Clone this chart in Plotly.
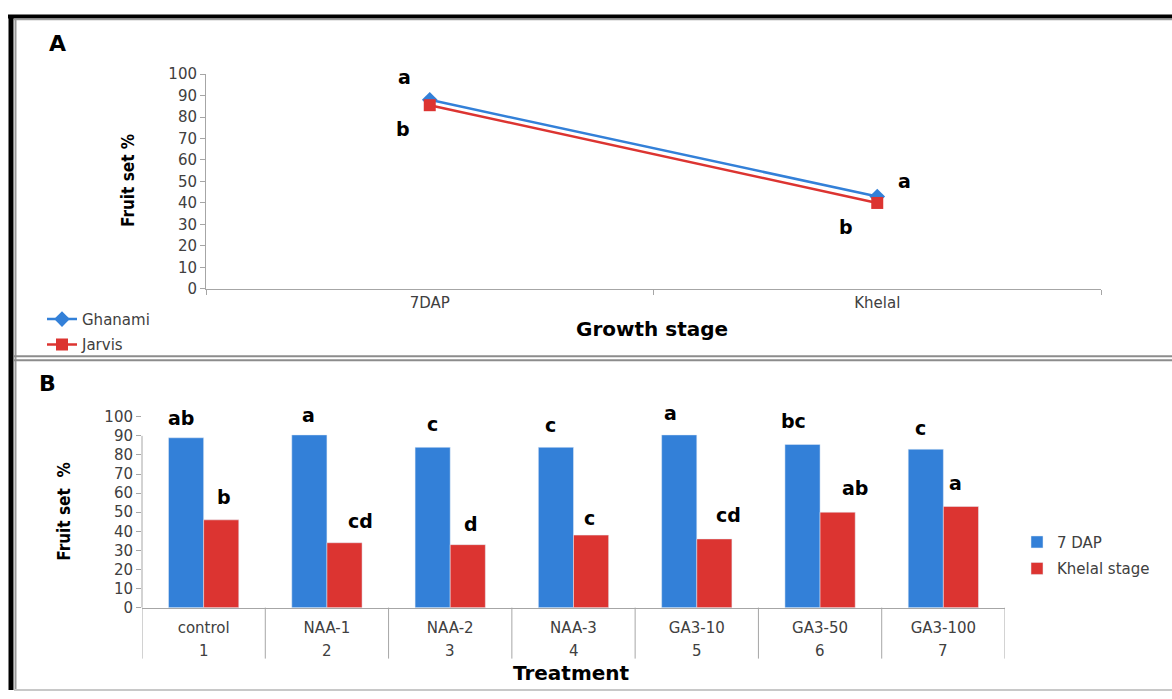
import plotly.graph_objects as go

# ---------------- data ----------------
stages = ["7DAP", "Khelal"]
ghanami = [88, 43]
jarvis = [85.5, 40]
ghanami_err = [1.5, 1.5]
jarvis_err = [2, 2]
ghanami_letters = ["a", "a"]
jarvis_letters = ["b", "b"]

treatments = ["control", "NAA-1", "NAA-2", "NAA-3", "GA3-10", "GA3-50", "GA3-100"]
treat_no = ["1", "2", "3", "4", "5", "6", "7"]
dap7 = [89, 90.5, 84, 84, 90.5, 85.5, 83]
khelal = [46, 34, 33, 38, 36, 50, 53]
dap7_letters = ["ab", "a", "c", "c", "a", "bc", "c"]
khelal_letters = ["b", "cd", "d", "c", "cd", "ab", "a"]

# ---------------- style ----------------
W, H = 1172, 699
BLUE = "#3380D8"
RED = "#DC3431"
AXIS = "#A6A6A6"
TICKF = dict(family="DejaVu Sans", size=15, color="#404040")
LETTERF = dict(family="DejaVu Sans", size=19, color="black")
TITLEF = dict(family="DejaVu Sans", size=20, color="black")
YTITLEF = dict(family="DejaVu Sans Condensed", size=17, color="black")

# the page is shown with a small vertical offset/scale; compensate it
V_OFF, V_SCALE = 7.9, 0.975


def px(x):
    return x / W


def ypix(y):
    return min(max((y - V_OFF) / V_SCALE, 0), H)


def py(y):
    return 1 - ypix(y) / H


fig = go.Figure()

# Panel A lines
fig.add_trace(go.Scatter(
    x=stages, y=ghanami, name="Ghanami", mode="lines+markers",
    line=dict(color=BLUE, width=2.5),
    marker=dict(symbol="diamond", size=12, color=BLUE),
    error_y=dict(type="data", array=ghanami_err, color="black", thickness=1, width=0),
    xaxis="x", yaxis="y", legend="legend", legendgroup="g"))
fig.add_trace(go.Scatter(
    x=stages, y=jarvis, name="Jarvis", mode="lines+markers",
    line=dict(color=RED, width=2.5),
    marker=dict(symbol="square", size=12, color=RED),
    error_y=dict(type="data", array=jarvis_err, color="black", thickness=1, width=0),
    xaxis="x", yaxis="y", legend="legend", legendgroup="j"))

# Panel B bars
fig.add_trace(go.Bar(
    x=treatments, y=dap7, name="7 DAP", marker_color=BLUE,
    xaxis="x2", yaxis="y2", legend="legend2", legendgroup="d"))
fig.add_trace(go.Bar(
    x=treatments, y=khelal, name="Khelal stage", marker_color=RED,
    xaxis="x2", yaxis="y2", legend="legend2", legendgroup="k"))

annotations = []
# Panel A letters (offsets in pixels)
offA_g = [(-25, 23), (27, 16)]
offA_j = [(-27, -24), (-31, -24)]
for i, s in enumerate(stages):
    annotations.append(dict(x=s, y=ghanami[i], xref="x", yref="y",
                            text="<b>%s</b>" % ghanami_letters[i],
                            showarrow=False, xshift=offA_g[i][0], yshift=offA_g[i][1],
                            font=LETTERF))
    annotations.append(dict(x=s, y=jarvis[i], xref="x", yref="y",
                            text="<b>%s</b>" % jarvis_letters[i],
                            showarrow=False, xshift=offA_j[i][0], yshift=offA_j[i][1],
                            font=LETTERF))

# Panel B letters
offB_b = [(-5, 20), (-1, 20), (0, 23), (-5, 22), (-9, 22), (-9, 23), (-5, 21)]
offB_r = [(3, 23), (16, 22), (3, 21), (-2, 17), (14, 24), (17, 24), (-5, 23)]
for i in range(len(treatments)):
    annotations.append(dict(x=i - 0.142, y=dap7[i], xref="x2", yref="y2",
                            text="<b>%s</b>" % dap7_letters[i],
                            showarrow=False, xshift=offB_b[i][0], yshift=offB_b[i][1],
                            font=LETTERF))
    annotations.append(dict(x=i + 0.142, y=khelal[i], xref="x2", yref="y2",
                            text="<b>%s</b>" % khelal_letters[i],
                            showarrow=False, xshift=offB_r[i][0], yshift=offB_r[i][1],
                            font=LETTERF))

# Second row of treatment axis (treatment numbers)
for i, n in enumerate(treat_no):
    annotations.append(dict(x=i, y=py(650), xref="x2", yref="paper", text=n,
                            showarrow=False, xanchor="center", yanchor="middle",
                            font=TICKF))


def ptext(x, y, text, font, angle=0):
    return dict(x=px(x), y=py(y), xref="paper", yref="paper", text=text,
                showarrow=False, xanchor="center", yanchor="middle",
                textangle=angle, font=font)


annotations += [
    ptext(57, 42, "<b>A</b>", dict(family="DejaVu Sans", size=22, color="black")),
    ptext(47, 383, "<b>B</b>", dict(family="DejaVu Sans", size=22, color="black")),
    ptext(652, 328, "<b>Growth stage</b>", TITLEF),
    ptext(571, 672, "<b>Treatment</b>", TITLEF),
    ptext(128, 180, "<b>Fruit set %</b>", YTITLEF, -90),
    ptext(64, 511, "<b>Fruit set  %</b>", YTITLEF, -90),
]


def hline(x0, x1, y, color, width):
    return dict(type="line", xref="paper", yref="paper", x0=px(x0), x1=px(x1),
                y0=py(y), y1=py(y), line=dict(color=color, width=width))


def vline(x, y0, y1, color, width):
    return dict(type="line", xref="paper", yref="paper", x0=px(x), x1=px(x),
                y0=py(y0), y1=py(y1), line=dict(color=color, width=width))


# Frames
shapes = [
    hline(8, W, 15.5, "black", 4),
    vline(11, 14, 720, "black", 5),
    hline(14, W, 18.5, "#9A9A9A", 1.5),
    vline(15.5, 18, 720, "#9A9A9A", 2),
    hline(14, W, 355.5, "#8C8C8C", 2),
    hline(14, W, 359.5, "#8C8C8C", 2),
    hline(14, W, 697.5, "#C8C8C8", 2),
    # panel B y-axis line (drawn from 0 to 90 as in the original)
    dict(type="line", xref="x2 domain", yref="y2", x0=0, x1=0, y0=0, y1=90,
         line=dict(color=AXIS, width=1)),
]
# category dividers of panel B axis
b_top, b_bot = ypix(416), ypix(607)
divider_depth = -(ypix(658) - b_bot) / (b_bot - b_top)
for k in range(len(treatments) + 1):
    shapes.append(dict(type="line", xref="x2", yref="y2 domain", x0=k - 0.5, x1=k - 0.5,
                       y0=0, y1=divider_depth, line=dict(color=AXIS, width=1)))

fig.update_layout(
    width=W, height=H,
    margin=dict(l=0, r=0, t=0, b=0),
    paper_bgcolor="white", plot_bgcolor="white",
    showlegend=True,
    bargap=0.43, bargroupgap=0,
    xaxis=dict(domain=[px(206), px(1101)], anchor="y", type="category",
               range=[-0.5, 1.5],
               showline=True, linecolor=AXIS, linewidth=1, showgrid=False,
               ticks="outside", tickson="boundaries", ticklen=5, tickcolor=AXIS,
               tickfont=TICKF, zeroline=False),
    yaxis=dict(domain=[py(288), py(73)], anchor="x", range=[0, 100], dtick=10,
               showline=True, linecolor=AXIS, linewidth=1, showgrid=False,
               ticks="outside", ticklen=5, tickcolor=AXIS, tickfont=TICKF, zeroline=False),
    xaxis2=dict(domain=[px(142), px(1005)], anchor="y2", type="category",
                range=[-0.5, 6.5],
                showline=True, linecolor=AXIS, linewidth=1, showgrid=False,
                ticks="", ticklabelstandoff=6,
                tickfont=TICKF, zeroline=False),
    yaxis2=dict(domain=[py(607), py(416)], anchor="x2", range=[0, 100], dtick=10,
                showline=False, showgrid=False,
                ticks="outside", ticklen=5, tickcolor=AXIS, tickfont=TICKF, zeroline=False),
    legend=dict(x=px(42), y=py(302), xanchor="left", yanchor="top",
                font=dict(family="DejaVu Sans", size=15, color="#404040"),
                bgcolor="rgba(0,0,0,0)", tracegroupgap=3, traceorder="grouped"),
    legend2=dict(x=px(1017), y=py(525), xanchor="left", yanchor="top",
                 font=dict(family="DejaVu Sans", size=15, color="#404040"),
                 bgcolor="rgba(0,0,0,0)", itemwidth=30, tracegroupgap=4,
                 traceorder="grouped"),
    annotations=annotations,
    shapes=shapes,
)

fig.write_html("out.html")
